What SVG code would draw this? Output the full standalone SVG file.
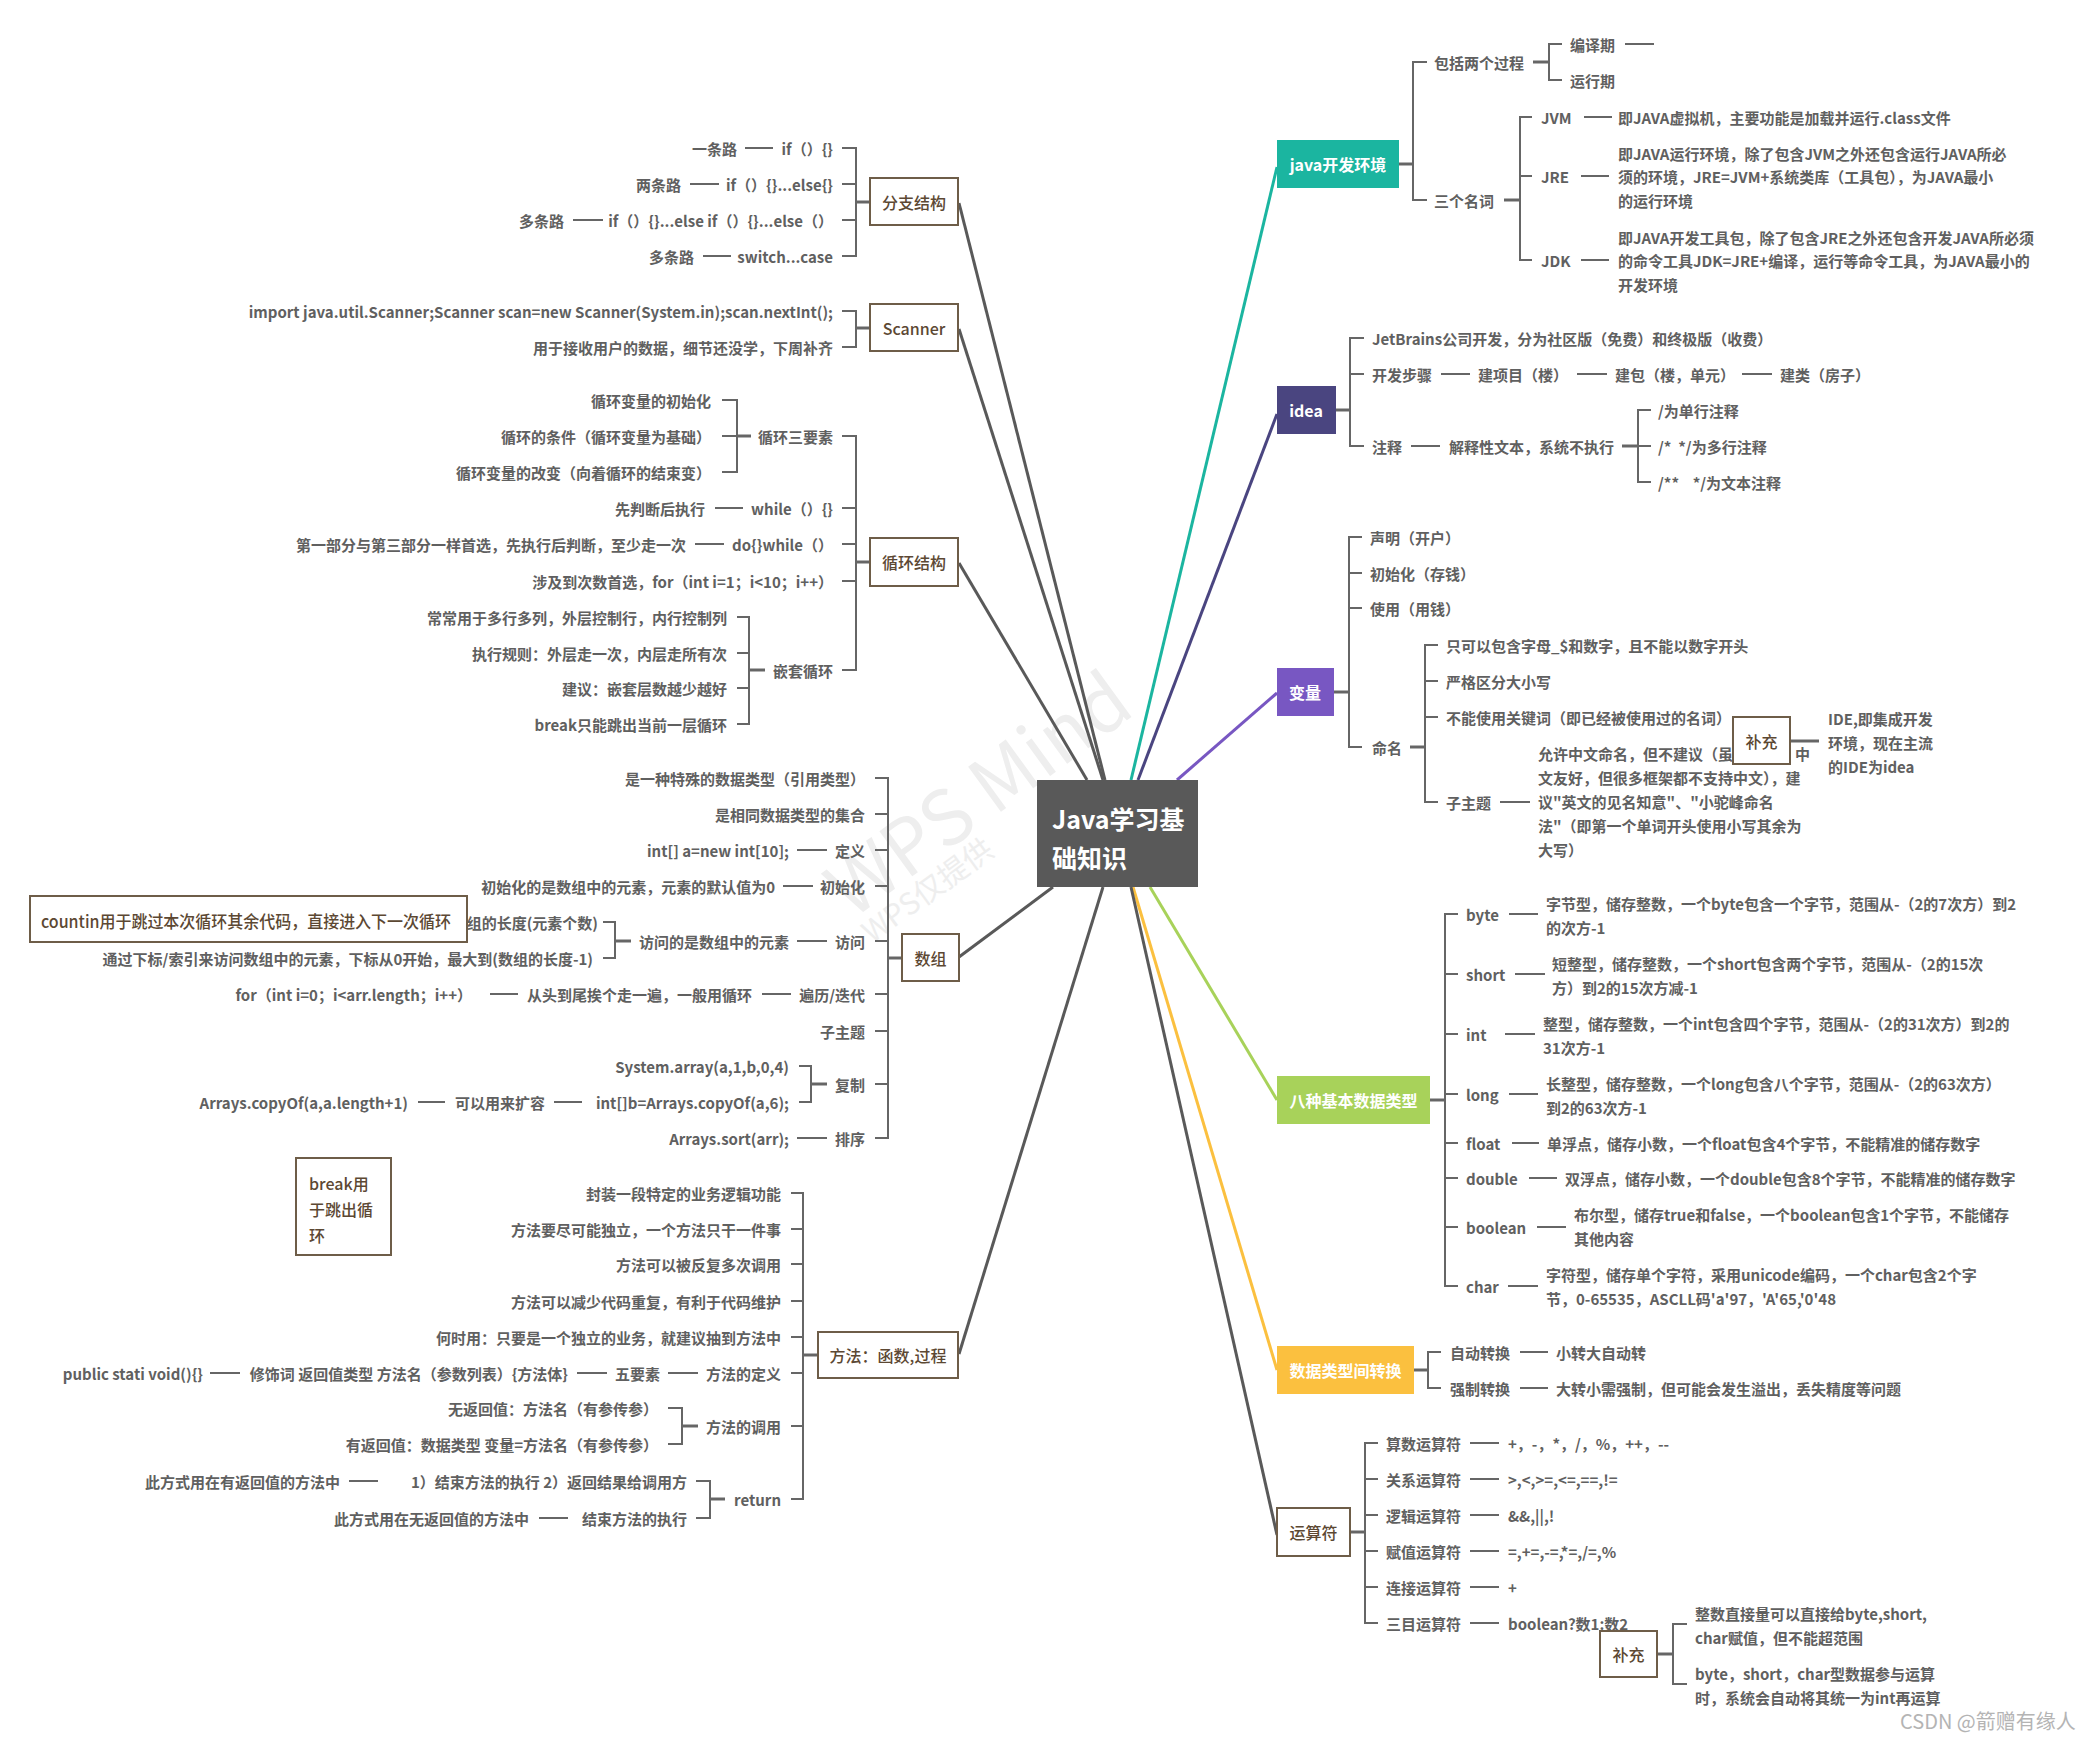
<svg xmlns="http://www.w3.org/2000/svg" width="2087" height="1740" viewBox="0 0 2087 1740">
<style>
text{font-family:"Noto Sans CJK SC","Noto Sans",sans-serif;dominant-baseline:central}
.t{font-size:15px;fill:#606060;font-weight:bold}
.e{text-anchor:end}
.nb{font-size:16px;fill:#5c4833;text-anchor:middle;font-weight:500}
.nw{font-size:16px;fill:#fff;font-weight:bold;text-anchor:middle}
.box{fill:#fff;stroke:#6e5d48;stroke-width:2}
.l{fill:none;stroke:#666;stroke-width:2}
.s{fill:none;stroke:#666;stroke-width:3}
.c{fill:none;stroke-width:3}
.wm{fill:#eeeeee;dominant-baseline:alphabetic}
</style>
<rect width="2087" height="1740" fill="#fff"/>
<g id="watermark">
<text class="wm" font-size="76" transform="translate(852,920) rotate(-36)">WPS Mind</text>
<text class="wm" font-size="30" transform="translate(872,944) rotate(-36)">WPS仅提供</text>
</g>
<g id="connectors">
<path class="c" stroke="#595959" d="M1105,780 L959,203"/>
<path class="c" stroke="#595959" d="M1103,780 L959,329"/>
<path class="c" stroke="#595959" d="M1087,780 L959,563"/>
<path class="c" stroke="#595959" d="M1053,887 L959,957"/>
<path class="c" stroke="#595959" d="M1103,887 L959,1354"/>
<path class="c" stroke="#1bb5a0" d="M1131,780 L1277,167"/>
<path class="c" stroke="#4a4580" d="M1138,780 L1277,414"/>
<path class="c" stroke="#7857c2" d="M1177,780 L1277,693"/>
<path class="c" stroke="#a8d25a" d="M1150,887 L1277,1100"/>
<path class="c" stroke="#fbc03f" d="M1133,887 L1277,1370"/>
<path class="c" stroke="#595959" d="M1131,887 L1277,1535"/>
<path class="s" d="M1399,164 H1413"/>
<path class="l" d="M1427,62 H1413 V200 H1427"/>
<path class="s" d="M1533,62 H1549"/>
<path class="l" d="M1562,44 H1549 V80 H1562"/>
<path class="l" d="M1625,44 H1654"/>
<path class="s" d="M1504,200 H1520"/>
<path class="l" d="M1532,117 H1520 V260 H1532 M1520,176 H1532"/>
<path class="l" d="M1584,117 H1612 M1581,176 H1609 M1581,260 H1609"/>
<path class="s" d="M1336,410 H1350"/>
<path class="l" d="M1364,338 H1350 V446 H1364 M1350,374 H1364"/>
<path class="l" d="M1441,374 H1470 M1577,374 H1607 M1742,374 H1772 M1411,446 H1440"/>
<path class="s" d="M1622,446 H1638"/>
<path class="l" d="M1651,410 H1638 V482 H1651 M1638,446 H1651"/>
<path class="s" d="M1334,692 H1349"/>
<path class="l" d="M1362,537 H1349 V747 H1362 M1349,573 H1362 M1349,608 H1362"/>
<path class="s" d="M1410,747 H1425"/>
<path class="l" d="M1438,645 H1425 V802 H1438 M1425,681 H1438 M1425,717 H1438"/>
<path class="l" d="M1500,802 H1530"/>
<path class="s" d="M1790,741 H1819"/>
<path class="s" d="M1430,1100 H1445"/>
<path class="l" d="M1458,914 H1445 V1286 H1458 M1445,974 H1458 M1445,1034 H1458 M1445,1094 H1458 M1445,1143 H1458 M1445,1178 H1458 M1445,1227 H1458"/>
<path class="l" d="M1509,914 H1538 M1515,974 H1545 M1505,1034 H1535 M1509,1094 H1538 M1512,1143 H1539 M1529,1178 H1557 M1537,1227 H1566 M1508,1286 H1538"/>
<path class="s" d="M1414,1370 H1428"/>
<path class="l" d="M1441,1352 H1428 V1388 H1441"/>
<path class="l" d="M1520,1352 H1548 M1520,1388 H1548"/>
<path class="s" d="M1350,1532 H1365"/>
<path class="l" d="M1378,1443 H1365 V1623 H1378 M1365,1479 H1378 M1365,1515 H1378 M1365,1551 H1378 M1365,1587 H1378"/>
<path class="l" d="M1470,1443 H1499 M1470,1479 H1499 M1470,1515 H1499 M1470,1551 H1499 M1470,1587 H1499 M1470,1623 H1499"/>
<path class="s" d="M1657,1654 H1673"/>
<path class="l" d="M1687,1624 H1673 V1684 H1687"/>
<path class="s" d="M870,202 H856"/>
<path class="l" d="M842,148 H856 V256 H842 M856,184 H842 M856,220 H842"/>
<path class="l" d="M745,148 H773 M690,184 H719 M573,220 H603 M703,256 H731"/>
<path class="s" d="M870,328 H856"/>
<path class="l" d="M842,311 H856 V347 H842"/>
<path class="s" d="M870,562 H856"/>
<path class="l" d="M842,436 H856 V670 H842 M856,508 H842 M856,544 H842 M856,581 H842"/>
<path class="s" d="M751,436 H737"/>
<path class="l" d="M722,400 H737 V472 H722 M737,436 H722"/>
<path class="l" d="M715,508 H743 M695,544 H724"/>
<path class="s" d="M765,670 H749"/>
<path class="l" d="M737,617 H749 V724 H737 M749,653 H737 M749,688 H737"/>
<path class="s" d="M902,958 H888"/>
<path class="l" d="M875,778 H888 V1138 H875 M888,814 H875 M888,850 H875 M888,886 H875 M888,941 H875 M888,994 H875 M888,1031 H875 M888,1084 H875"/>
<path class="l" d="M797,850 H827 M783,886 H813 M797,941 H827 M762,994 H791 M490,994 H518 M797,1138 H827"/>
<path class="s" d="M631,941 H615"/>
<path class="l" d="M603,922 H615 V958 H603"/>
<path class="s" d="M827,1084 H811"/>
<path class="l" d="M799,1066 H811 V1102 H799"/>
<path class="l" d="M554,1102 H582 M418,1102 H445"/>
<path class="s" d="M818,1355 H803"/>
<path class="l" d="M791,1193 H803 V1499 H791 M803,1229 H791 M803,1264 H791 M803,1301 H791 M803,1337 H791 M803,1373 H791 M803,1426 H791"/>
<path class="l" d="M668,1373 H698 M577,1373 H607 M210,1373 H240"/>
<path class="s" d="M698,1426 H682"/>
<path class="l" d="M668,1408 H682 V1444 H668"/>
<path class="s" d="M725,1499 H710"/>
<path class="l" d="M696,1481 H710 V1518 H696"/>
<path class="l" d="M349,1481 H378 M539,1518 H568"/>
</g>
<g id="root">
<rect x="1037" y="780" width="161" height="107" fill="#595959"/>
<text x="1052" y="818" font-size="25" font-weight="bold" fill="#fff">Java学习基</text>
<text x="1052" y="857" font-size="25" font-weight="bold" fill="#fff">础知识</text>
</g>
<g id="java-env">
<rect x="1277" y="140" width="122" height="48" fill="#1bb5a0"/>
<text class="nw" x="1338" y="164">java开发环境</text>
<text class="t" x="1434" y="62">包括两个过程</text>
<text class="t" x="1570" y="44">编译期</text>
<text class="t" x="1570" y="80">运行期</text>
<text class="t" x="1434" y="200">三个名词</text>
<text class="t" x="1541" y="117">JVM</text>
<text class="t" x="1618" y="117">即JAVA虚拟机，主要功能是加载并运行.class文件</text>
<text class="t" x="1541" y="176">JRE</text>
<text class="t" x="1618" y="153">即JAVA运行环境，除了包含JVM之外还包含运行JAVA所必</text>
<text class="t" x="1618" y="176">须的环境，JRE=JVM+系统类库（工具包），为JAVA最小</text>
<text class="t" x="1618" y="200">的运行环境</text>
<text class="t" x="1541" y="260">JDK</text>
<text class="t" x="1618" y="237">即JAVA开发工具包，除了包含JRE之外还包含开发JAVA所必须</text>
<text class="t" x="1618" y="260">的命令工具JDK=JRE+编译，运行等命令工具，为JAVA最小的</text>
<text class="t" x="1618" y="284">开发环境</text>
</g>
<g id="idea">
<rect x="1277" y="386" width="59" height="48" fill="#4a4580"/>
<text class="nw" x="1306" y="410">idea</text>
<text class="t" x="1372" y="338">JetBrains公司开发，分为社区版（免费）和终极版（收费）</text>
<text class="t" x="1372" y="374">开发步骤</text>
<text class="t" x="1478" y="374">建项目（楼）</text>
<text class="t" x="1615" y="374">建包（楼，单元）</text>
<text class="t" x="1780" y="374">建类（房子）</text>
<text class="t" x="1372" y="446">注释</text>
<text class="t" x="1449" y="446">解释性文本，系统不执行</text>
<text class="t" x="1658" y="410">/为单行注释</text>
<text class="t" x="1658" y="446" style="white-space:pre">/*  */为多行注释</text>
<text class="t" x="1658" y="482" style="white-space:pre">/**    */为文本注释</text>
</g>
<g id="variable">
<rect x="1277" y="668" width="57" height="48" fill="#7857c2"/>
<text class="nw" x="1305" y="692">变量</text>
<text class="t" x="1370" y="537">声明（开户）</text>
<text class="t" x="1370" y="573">初始化（存钱）</text>
<text class="t" x="1370" y="608">使用（用钱）</text>
<text class="t" x="1372" y="747">命名</text>
<text class="t" x="1446" y="645">只可以包含字母_$和数字，且不能以数字开头</text>
<text class="t" x="1446" y="681">严格区分大小写</text>
<text class="t" x="1446" y="717">不能使用关键词（即已经被使用过的名词）</text>
<text class="t" x="1446" y="802">子主题</text>
<text class="t" x="1538" y="753">允许中文命名，但不建议（虽</text>
<text class="t" x="1795" y="753">中</text>
<text class="t" x="1538" y="777">文友好，但很多框架都不支持中文），建</text>
<text class="t" x="1538" y="801">议"英文的见名知意"、"小驼峰命名</text>
<text class="t" x="1538" y="825">法"（即第一个单词开头使用小写其余为</text>
<text class="t" x="1538" y="849">大写）</text>
</g>
<g id="supplement-ide">
<rect class="box" x="1733" y="717" width="57" height="47"/>
<text class="nb" x="1761.5" y="741">补充</text>
<text class="t" x="1828" y="718">IDE,即集成开发</text>
<text class="t" x="1828" y="742">环境，现在主流</text>
<text class="t" x="1828" y="766">的IDE为idea</text>
</g>
<g id="eight-types">
<rect x="1277" y="1076" width="153" height="48" fill="#a8d25a"/>
<text class="nw" x="1353.5" y="1100">八种基本数据类型</text>
<text class="t" x="1466" y="914">byte</text>
<text class="t" x="1546" y="903">字节型，储存整数，一个byte包含一个字节，范围从-（2的7次方）到2</text>
<text class="t" x="1546" y="927">的次方-1</text>
<text class="t" x="1466" y="974">short</text>
<text class="t" x="1552" y="963">短整型，储存整数，一个short包含两个字节，范围从-（2的15次</text>
<text class="t" x="1552" y="987">方）到2的15次方减-1</text>
<text class="t" x="1466" y="1034">int</text>
<text class="t" x="1543" y="1023">整型，储存整数，一个int包含四个字节，范围从-（2的31次方）到2的</text>
<text class="t" x="1543" y="1047">31次方-1</text>
<text class="t" x="1466" y="1094">long</text>
<text class="t" x="1546" y="1083">长整型，储存整数，一个long包含八个字节，范围从-（2的63次方）</text>
<text class="t" x="1546" y="1107">到2的63次方-1</text>
<text class="t" x="1466" y="1143">float</text>
<text class="t" x="1547" y="1143">单浮点，储存小数，一个float包含4个字节，不能精准的储存数字</text>
<text class="t" x="1466" y="1178">double</text>
<text class="t" x="1565" y="1178">双浮点，储存小数，一个double包含8个字节，不能精准的储存数字</text>
<text class="t" x="1466" y="1227">boolean</text>
<text class="t" x="1574" y="1214">布尔型，储存true和false，一个boolean包含1个字节，不能储存</text>
<text class="t" x="1574" y="1238">其他内容</text>
<text class="t" x="1466" y="1286">char</text>
<text class="t" x="1546" y="1274">字符型，储存单个字符，采用unicode编码，一个char包含2个字</text>
<text class="t" x="1546" y="1298">节，0-65535，ASCLL码'a'97，'A'65,'0'48</text>
</g>
<g id="conversion">
<rect x="1277" y="1346" width="137" height="48" fill="#fbc03f"/>
<text class="nw" x="1345.5" y="1370">数据类型间转换</text>
<text class="t" x="1450" y="1352">自动转换</text>
<text class="t" x="1556" y="1352">小转大自动转</text>
<text class="t" x="1450" y="1388">强制转换</text>
<text class="t" x="1556" y="1388">大转小需强制，但可能会发生溢出，丢失精度等问题</text>
</g>
<g id="operators">
<rect class="box" x="1277" y="1508" width="73" height="48"/>
<text class="nb" x="1313.5" y="1532">运算符</text>
<text class="t" x="1386" y="1443">算数运算符</text>
<text class="t" x="1508" y="1443">+，-，*，/，%，++，--</text>
<text class="t" x="1386" y="1479">关系运算符</text>
<text class="t" x="1508" y="1479">&gt;,&lt;,&gt;=,&lt;=,==,!=</text>
<text class="t" x="1386" y="1515">逻辑运算符</text>
<text class="t" x="1508" y="1515">&amp;&amp;,||,!</text>
<text class="t" x="1386" y="1551">赋值运算符</text>
<text class="t" x="1508" y="1551">=,+=,-=,*=,/=,%</text>
<text class="t" x="1386" y="1587">连接运算符</text>
<text class="t" x="1508" y="1587">+</text>
<text class="t" x="1386" y="1623">三目运算符</text>
<text class="t" x="1508" y="1623">boolean?数1:数2</text>
</g>
<g id="supplement-ops">
<rect class="box" x="1600" y="1631" width="57" height="46"/>
<text class="nb" x="1628.5" y="1654">补充</text>
<text class="t" x="1695" y="1613">整数直接量可以直接给byte,short,</text>
<text class="t" x="1695" y="1637">char赋值，但不能超范围</text>
<text class="t" x="1695" y="1673">byte，short，char型数据参与运算</text>
<text class="t" x="1695" y="1697">时，系统会自动将其统一为int再运算</text>
</g>
<g id="branch">
<rect class="box" x="870" y="178" width="88" height="47"/>
<text class="nb" x="914" y="202">分支结构</text>
<text class="t e" x="833" y="148">if（）{}</text>
<text class="t e" x="737" y="148">一条路</text>
<text class="t e" x="833" y="184">if（）{}...else{}</text>
<text class="t e" x="681" y="184">两条路</text>
<text class="t e" x="833" y="220">if（）{}...else if（）{}...else（）</text>
<text class="t e" x="564" y="220">多条路</text>
<text class="t e" x="833" y="256">switch...case</text>
<text class="t e" x="694" y="256">多条路</text>
</g>
<g id="scanner">
<rect class="box" x="870" y="304" width="88" height="47"/>
<text class="nb" x="914" y="328">Scanner</text>
<text class="t e" x="833" y="311">import java.util.Scanner;Scanner scan=new Scanner(System.in);scan.nextInt();</text>
<text class="t e" x="833" y="347">用于接收用户的数据，细节还没学，下周补齐</text>
</g>
<g id="loop">
<rect class="box" x="870" y="538" width="88" height="48"/>
<text class="nb" x="914" y="562">循环结构</text>
<text class="t e" x="833" y="436">循环三要素</text>
<text class="t e" x="711" y="400">循环变量的初始化</text>
<text class="t e" x="711" y="436">循环的条件（循环变量为基础）</text>
<text class="t e" x="711" y="472">循环变量的改变（向着循环的结束变）</text>
<text class="t e" x="833" y="508">while（）{}</text>
<text class="t e" x="705" y="508">先判断后执行</text>
<text class="t e" x="833" y="544">do{}while（）</text>
<text class="t e" x="686" y="544">第一部分与第三部分一样首选，先执行后判断，至少走一次</text>
<text class="t e" x="833" y="581">涉及到次数首选，for（int i=1；i&lt;10；i++）</text>
<text class="t e" x="833" y="670">嵌套循环</text>
<text class="t e" x="727" y="617">常常用于多行多列，外层控制行，内行控制列</text>
<text class="t e" x="727" y="653">执行规则：外层走一次，内层走所有次</text>
<text class="t e" x="727" y="688">建议：嵌套层数越少越好</text>
<text class="t e" x="727" y="724">break只能跳出当前一层循环</text>
</g>
<g id="array">
<rect class="box" x="902" y="934" width="57" height="47"/>
<text class="nb" x="930.5" y="958">数组</text>
<text class="t e" x="865" y="778">是一种特殊的数据类型（引用类型）</text>
<text class="t e" x="865" y="814">是相同数据类型的集合</text>
<text class="t e" x="865" y="850">定义</text>
<text class="t e" x="789" y="850">int[] a=new int[10];</text>
<text class="t e" x="865" y="886">初始化</text>
<text class="t e" x="775" y="886">初始化的是数组中的元素，元素的默认值为0</text>
<text class="t e" x="865" y="941">访问</text>
<text class="t e" x="789" y="941">访问的是数组中的元素</text>
<text class="t e" x="598" y="922">组的长度(元素个数)</text>
<text class="t e" x="593" y="958">通过下标/索引来访问数组中的元素，下标从0开始，最大到(数组的长度-1)</text>
<text class="t e" x="865" y="994">遍历/迭代</text>
<text class="t e" x="752" y="994">从头到尾挨个走一遍，一般用循环</text>
<text class="t e" x="472" y="994">for（int i=0；i&lt;arr.length；i++）</text>
<text class="t e" x="865" y="1031">子主题</text>
<text class="t e" x="865" y="1084">复制</text>
<text class="t e" x="789" y="1066">System.array(a,1,b,0,4)</text>
<text class="t e" x="789" y="1102">int[]b=Arrays.copyOf(a,6);</text>
<text class="t e" x="545" y="1102">可以用来扩容</text>
<text class="t e" x="408" y="1102">Arrays.copyOf(a,a.length+1)</text>
<text class="t e" x="865" y="1138">排序</text>
<text class="t e" x="789" y="1138">Arrays.sort(arr);</text>
</g>
<g id="note-continue">
<rect class="box" x="30" y="896" width="437" height="46"/>
<text x="41" y="920" font-size="17" fill="#5c4833" font-weight="500" textLength="410" lengthAdjust="spacingAndGlyphs">countin用于跳过本次循环其余代码，直接进入下一次循环</text>
</g>
<g id="note-break">
<rect class="box" x="296" y="1158" width="95" height="97"/>
<text x="309" y="1183" font-size="16" fill="#5c4833" font-weight="500">break用</text>
<text x="309" y="1209" font-size="16" fill="#5c4833" font-weight="500">于跳出循</text>
<text x="309" y="1235" font-size="16" fill="#5c4833" font-weight="500">环</text>
</g>
<g id="method">
<rect class="box" x="818" y="1332" width="140" height="46"/>
<text class="nb" x="888" y="1355">方法：函数,过程</text>
<text class="t e" x="781" y="1193">封装一段特定的业务逻辑功能</text>
<text class="t e" x="781" y="1229">方法要尽可能独立，一个方法只干一件事</text>
<text class="t e" x="781" y="1264">方法可以被反复多次调用</text>
<text class="t e" x="781" y="1301">方法可以减少代码重复，有利于代码维护</text>
<text class="t e" x="781" y="1337">何时用：只要是一个独立的业务，就建议抽到方法中</text>
<text class="t e" x="781" y="1373">方法的定义</text>
<text class="t e" x="660" y="1373">五要素</text>
<text class="t e" x="568" y="1373">修饰词 返回值类型 方法名（参数列表）{方法体}</text>
<text class="t e" x="203" y="1373">public stati void(){}</text>
<text class="t e" x="781" y="1426">方法的调用</text>
<text class="t e" x="658" y="1408">无返回值：方法名（有参传参）</text>
<text class="t e" x="658" y="1444">有返回值：数据类型 变量=方法名（有参传参）</text>
<text class="t e" x="781" y="1499">return</text>
<text class="t e" x="687" y="1481">1）结束方法的执行 2）返回结果给调用方</text>
<text class="t e" x="340" y="1481">此方式用在有返回值的方法中</text>
<text class="t e" x="687" y="1518">结束方法的执行</text>
<text class="t e" x="529" y="1518">此方式用在无返回值的方法中</text>
</g>
<text x="1900" y="1720" font-size="20" fill="#b4b4b4" font-family="Noto Sans CJK SC, sans-serif">CSDN @箭赠有缘人</text>
</svg>
